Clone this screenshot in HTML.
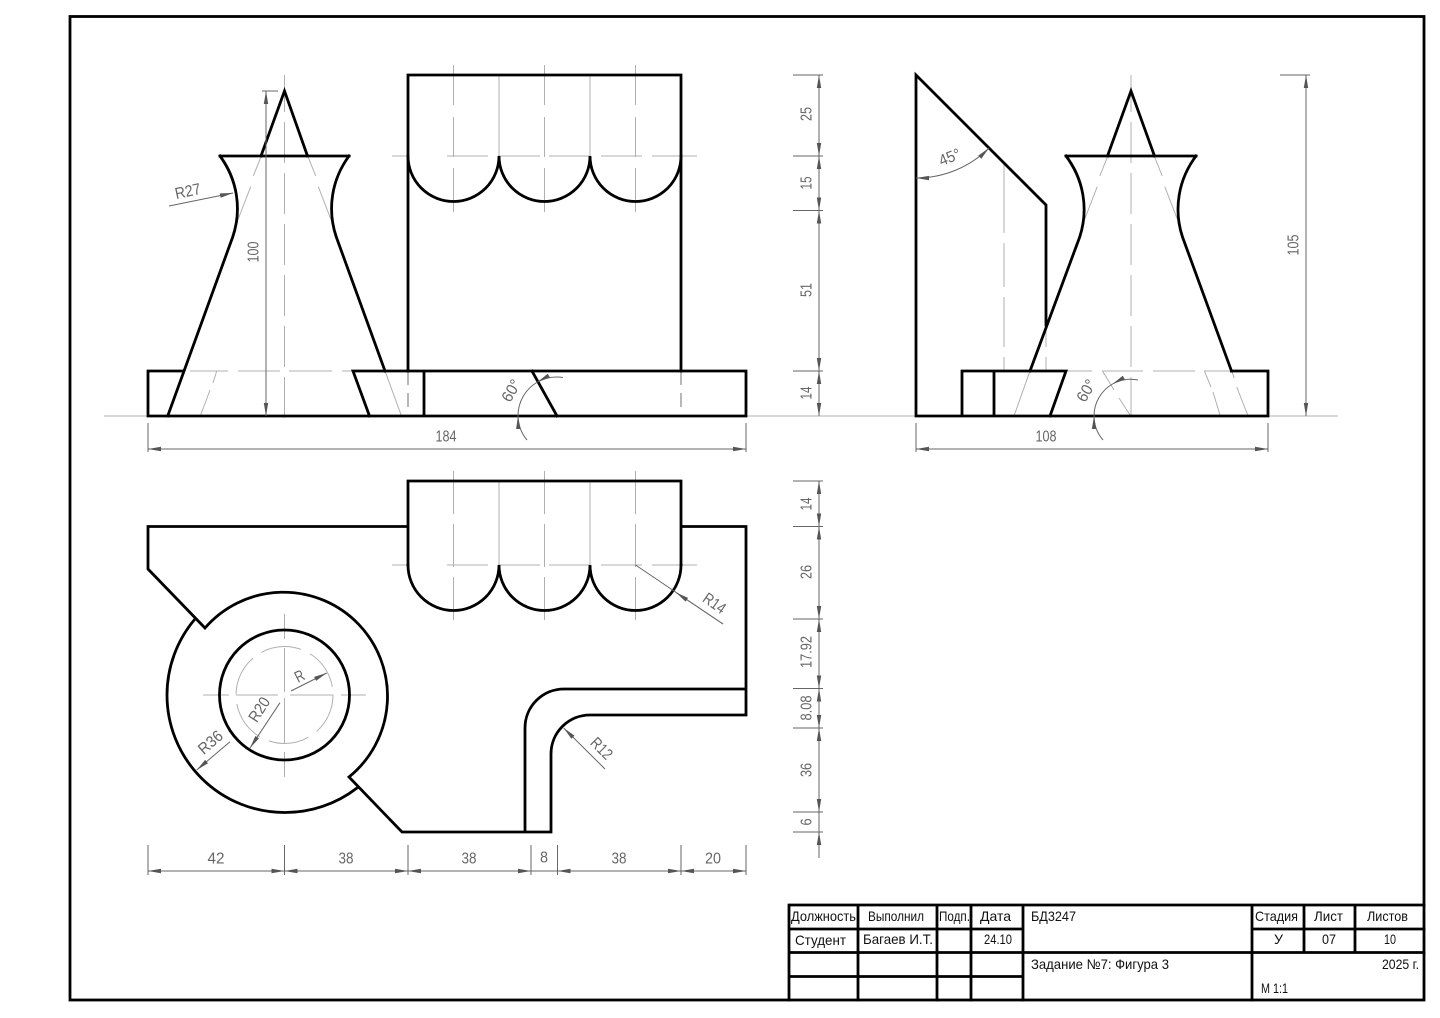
<!DOCTYPE html>
<html><head><meta charset="utf-8"><style>
html,body{margin:0;padding:0;background:#fff}
svg{display:block}
.m{fill:none;stroke:#000;stroke-width:2.8;stroke-linejoin:miter;stroke-linecap:square}
.t{fill:none;stroke:#666;stroke-width:1}
.c{fill:none;stroke:#b0b0b0;stroke-width:1}
.d{fill:none;stroke:#b0b0b0;stroke-width:1;stroke-dasharray:41 10}
.h{fill:none;stroke:#888;stroke-width:1.2;stroke-dasharray:14 8}
.a{fill:none;stroke:#666;stroke-width:1;marker-start:url(#ar);marker-end:url(#ar)}
.e{fill:none;stroke:#666;stroke-width:1;marker-end:url(#ar)}
.g{font:16px "Liberation Sans",sans-serif;fill:#666;text-anchor:middle;dominant-baseline:central}
.b{font:14px "Liberation Sans",sans-serif;fill:#111;dominant-baseline:central}
</style></head><body>
<svg width="1440" height="1018" viewBox="0 0 1440 1018" xmlns="http://www.w3.org/2000/svg">
<defs><marker id="ar" viewBox="-14 -3 14 6" refX="0" refY="0" markerWidth="14" markerHeight="6" markerUnits="userSpaceOnUse" orient="auto-start-reverse"><path d="M0 0L-13 -2.2L-13 2.2Z" fill="#555"/></marker></defs>
<rect width="1440" height="1018" fill="#fff"/>

<!-- construction / centre lines -->
<path class="c" d="M104 416H1338"/>
<path class="d" d="M284.500 75V426" stroke-dasharray="42 10" stroke-dashoffset="4"/>
<path class="d" d="M1131 75V416" stroke-dasharray="42 10" stroke-dashoffset="4"/>
<path class="c" d="M453.500 65V105M453.500 117V157M453.500 168V212M544.500 65V105M544.500 117V157M544.500 168V212M635.500 65V105M635.500 117V157M635.500 168V212"/>
<path class="c" d="M453.500 471V514M453.500 524V567M453.500 577V620M544.500 471V514M544.500 524V567M544.500 577V620M635.500 471V514M635.500 524V567M635.500 577V620"/>
<path class="c" d="M499 75V156M590 75V156M499 481V565M590 481V565"/>
<path class="c" d="M392 156H407M447 156H488M498 156H540M549 156H590M601 156H642M652 156H697"/>
<path class="c" d="M392 565H407M447 565H488M498 565H540M549 565H590M601 565H642M652 565H697"/>
<path class="c" d="M190 371H228M238 371H280M289 371H332M342 371H352"/>
<path class="c" d="M1067 371H1092M1102 371H1143M1153 371H1195M1204 371H1232"/>
<path class="c" d="M261 156.700L253.300 176M250.700 186.700L236.700 223M308 156.700L315.700 176M318.300 186.700L332.300 223M216.700 371L213 383M210 390L200.700 415"/>
<path class="c" d="M385 371L401.500 416M1030 371L1014 416M1232 371L1234 378M1236.700 387L1247.700 415"/>
<path class="c" d="M1107.500 156.700L1099.800 176M1097.200 186.700L1083.200 223M1154.500 156.700L1162.200 176M1164.800 186.700L1178.800 223M1102.300 370.700L1114 390M1119 398L1130 415M1204.300 370.700L1211 387M1213 392L1220 415"/>
<path class="c" d="M1004 165V233M1004 243V287M1004 297V347M1004 357V371M1046 327V347M1046 357V371"/>
<path class="h" d="M408 371V416M681 371V416"/>
<!-- circle centres -->
<path class="c" d="M203 695H229M236 695H278M290 695H333M341 695H366M284.500 614V639M284.500 648V692M284.500 698V743M284.500 752V777"/>
<circle class="d" cx="284.500" cy="695" r="48.500" stroke-dasharray="41 10"/>

<!-- front view -->
<path class="m" d="M408 371V75H681V371"/>
<path class="m" d="M408 156A45.500 45.500 0 0 0 499 156A45.500 45.500 0 0 0 590 156A45.500 45.500 0 0 0 681 156"/>
<path class="m" d="M148 371H183M148 371V416H746V371H353L369.500 416M424 371V416M532 371L557 416"/>
<path class="m" d="M261 156L284.500 91L307.500 156M220 156H349M220 156A88 88 0 0 1 232.700 237L167.700 416M349 156A88 88 0 0 0 336.300 237L385 371"/>
<!-- side view -->
<path class="m" d="M1046 325V205L916 75V416H1268V371H1231.500M962 416V371H1066L1050 416M994 371V416"/>
<path class="m" d="M1107.500 156L1131 91L1154.500 156M1066 156H1196M1066 156A88 88 0 0 1 1079.700 237L1030 371M1196 156A88 88 0 0 0 1182.500 237L1231.500 371"/>
<!-- plan -->
<path class="m" d="M408 565V481H681V565M408 526.500H148V569L205 628A104 104 0 1 1 349 777L402 832H551V754A39 39 0 0 1 590 715H746V526.500H681M525 832V728A39 39 0 0 1 564 689H746"/>
<path class="m" d="M195 619A117.500 117.500 0 0 0 167 695A117.500 117.500 0 0 0 284.500 812.500A117.500 117.500 0 0 0 357 788"/>
<path class="m" d="M408 565A45.500 45.500 0 0 0 499 565A45.500 45.500 0 0 0 590 565A45.500 45.500 0 0 0 681 565"/>
<circle class="m" cx="284.500" cy="695" r="65"/>

<!-- dims: front -->
<path class="t" d="M262 91H278M148 423V452M746 423V452M916 423V452M1268 423V452M793 75H823M793 156H823M793 210.500H823M793 371H823M1280 75H1310"/>
<path class="a" d="M266 91V416"/>
<path class="a" d="M148 449H746"/>
<path class="a" d="M916 449H1268"/>
<path class="a" d="M819 75V156"/><path class="a" d="M819 156V210.500"/><path class="a" d="M819 210.500V371"/><path class="a" d="M819 371V416"/>
<path class="a" d="M1306 75V416"/>
<path class="e" d="M169 206L233 193"/>
<path class="a" d="M916 178A103 103 0 0 0 989 148"/>
<path class="e" d="M563 377.500A39 39 0 0 0 537.500 382"/><path class="t" d="M537.500 382A39 39 0 0 0 518 416"/><path class="e" d="M527 440A39 39 0 0 1 518 416"/>
<path class="e" d="M1138 380A37 37 0 0 0 1112.500 384"/><path class="t" d="M1112.500 384A37 37 0 0 0 1094 416"/><path class="e" d="M1103 440A37 37 0 0 1 1094 416"/>

<!-- dims: plan -->
<path class="t" d="M793 481H823M793 526.500H823M793 619H823M793 688.500H823M793 728H823M793 812H823M793 832H823"/>
<path class="a" d="M819 481V526.500"/><path class="a" d="M819 526.500V619"/><path class="a" d="M819 619V688.500"/><path class="a" d="M819 688.500V728"/><path class="a" d="M819 728V812"/>
<path class="t" d="M819 812V832"/><path class="e" d="M819 858V832"/>
<path class="t" d="M148 845V875M284.500 845V875M408 845V875M531 845V875M557.500 845V875M681 845V875M746 845V875"/>
<path class="a" d="M148 871H284.500"/><path class="a" d="M284.500 871H408"/><path class="a" d="M408 871H531"/><path class="t" d="M531 871H557.500"/><path class="a" d="M557.500 871H681"/><path class="a" d="M681 871H746"/>
<path class="t" d="M635.500 565L723 624"/><path class="e" d="M723 624L676 592.500"/>
<path class="e" d="M605 769L563.700 728"/>
<path class="e" d="M291 691L326.700 673"/>
<path class="e" d="M280 702.700L250 748"/>
<path class="e" d="M230 741.700L196.700 770"/>

<!-- dim text -->
<text class="g" transform="translate(254,252) rotate(-90)" textLength="21" lengthAdjust="spacingAndGlyphs">100</text>
<text class="g" transform="translate(188,192) rotate(-12)" textLength="26" lengthAdjust="spacingAndGlyphs">R27</text>
<text class="g" transform="translate(446,437)" textLength="21" lengthAdjust="spacingAndGlyphs">184</text>
<text class="g" transform="translate(1046,437)" textLength="21" lengthAdjust="spacingAndGlyphs">108</text>
<text class="g" transform="translate(1294,245) rotate(-90)" textLength="21" lengthAdjust="spacingAndGlyphs">105</text>
<text class="g" transform="translate(807,114) rotate(-90)" textLength="14" lengthAdjust="spacingAndGlyphs">25</text>
<text class="g" transform="translate(807,183) rotate(-90)" textLength="13" lengthAdjust="spacingAndGlyphs">15</text>
<text class="g" transform="translate(807,290) rotate(-90)" textLength="14" lengthAdjust="spacingAndGlyphs">51</text>
<text class="g" transform="translate(807,393) rotate(-90)" textLength="13" lengthAdjust="spacingAndGlyphs">14</text>
<text class="g" transform="translate(807,504) rotate(-90)" textLength="13" lengthAdjust="spacingAndGlyphs">14</text>
<text class="g" transform="translate(807,572) rotate(-90)" textLength="14" lengthAdjust="spacingAndGlyphs">26</text>
<text class="g" transform="translate(807,652) rotate(-90)" textLength="32" lengthAdjust="spacingAndGlyphs">17.92</text>
<text class="g" transform="translate(807,708) rotate(-90)" textLength="25" lengthAdjust="spacingAndGlyphs">8.08</text>
<text class="g" transform="translate(807,770) rotate(-90)" textLength="14" lengthAdjust="spacingAndGlyphs">36</text>
<text class="g" transform="translate(807,822) rotate(-90)" textLength="7" lengthAdjust="spacingAndGlyphs">6</text>
<text class="g" transform="translate(216,859)" textLength="17" lengthAdjust="spacingAndGlyphs">42</text>
<text class="g" transform="translate(346,859)" textLength="15" lengthAdjust="spacingAndGlyphs">38</text>
<text class="g" transform="translate(469,859)" textLength="15" lengthAdjust="spacingAndGlyphs">38</text>
<text class="g" transform="translate(544,858)" textLength="8" lengthAdjust="spacingAndGlyphs">8</text>
<text class="g" transform="translate(619,859)" textLength="15" lengthAdjust="spacingAndGlyphs">38</text>
<text class="g" transform="translate(713,859)" textLength="16" lengthAdjust="spacingAndGlyphs">20</text>
<text class="g" transform="translate(714,604) rotate(35)" textLength="24" lengthAdjust="spacingAndGlyphs">R14</text>
<text class="g" transform="translate(601,749) rotate(45)" textLength="24" lengthAdjust="spacingAndGlyphs">R12</text>
<text class="g" transform="translate(300,677) rotate(-27)" textLength="9" lengthAdjust="spacingAndGlyphs">R</text>
<text class="g" transform="translate(260,710) rotate(-57)" textLength="26" lengthAdjust="spacingAndGlyphs">R20</text>
<text class="g" transform="translate(211,743) rotate(-41)" textLength="27" lengthAdjust="spacingAndGlyphs">R36</text>
<text class="g" transform="translate(950,158) rotate(-22)" textLength="22" lengthAdjust="spacingAndGlyphs">45°</text>
<text class="g" transform="translate(512,391) rotate(-60)" textLength="23" lengthAdjust="spacingAndGlyphs">60°</text>
<text class="g" transform="translate(1087,391) rotate(-60)" textLength="23" lengthAdjust="spacingAndGlyphs">60°</text>

<!-- frame + title block -->
<rect class="m" x="70" y="16.500" width="1354" height="983.500"/>
<path class="m" d="M789 1000V905H1424M858 905V1000M937 905V1000M971 905V1000M1023 905V1000M1252 905V1000M1304 905V952.500M1355 905V952.500M789 929H1023M1252 929H1424M789 952.500H1424M789 976.500H1023"/>
<g>
<text class="b" x="791" y="916" textLength="65" lengthAdjust="spacingAndGlyphs">Должность</text>
<text class="b" x="868" y="916" textLength="56" lengthAdjust="spacingAndGlyphs">Выполнил</text>
<text class="b" x="939" y="916" textLength="31" lengthAdjust="spacingAndGlyphs">Подп.</text>
<text class="b" x="980" y="916" textLength="31" lengthAdjust="spacingAndGlyphs">Дата</text>
<text class="b" x="1031" y="916" textLength="45" lengthAdjust="spacingAndGlyphs">БД3247</text>
<text class="b" x="795" y="940" textLength="51" lengthAdjust="spacingAndGlyphs">Студент</text>
<text class="b" x="863" y="939" textLength="70" lengthAdjust="spacingAndGlyphs">Багаев И.Т.</text>
<text class="b" x="984" y="939" textLength="28" lengthAdjust="spacingAndGlyphs">24.10</text>
<text class="b" x="1031" y="964" textLength="138" lengthAdjust="spacingAndGlyphs">Задание №7: Фигура 3</text>
<text class="b" x="1255" y="916" textLength="43" lengthAdjust="spacingAndGlyphs">Стадия</text>
<text class="b" x="1314" y="916" textLength="29" lengthAdjust="spacingAndGlyphs">Лист</text>
<text class="b" x="1367" y="916" textLength="41" lengthAdjust="spacingAndGlyphs">Листов</text>
<text class="b" x="1274" y="939" textLength="9" lengthAdjust="spacingAndGlyphs">У</text>
<text class="b" x="1322" y="939" textLength="14" lengthAdjust="spacingAndGlyphs">07</text>
<text class="b" x="1384" y="939" textLength="12" lengthAdjust="spacingAndGlyphs">10</text>
<text class="b" x="1382" y="964" textLength="37" lengthAdjust="spacingAndGlyphs">2025 г.</text>
<text class="b" x="1261" y="988" textLength="27" lengthAdjust="spacingAndGlyphs">М 1:1</text>
</g>
</svg>
</body></html>
